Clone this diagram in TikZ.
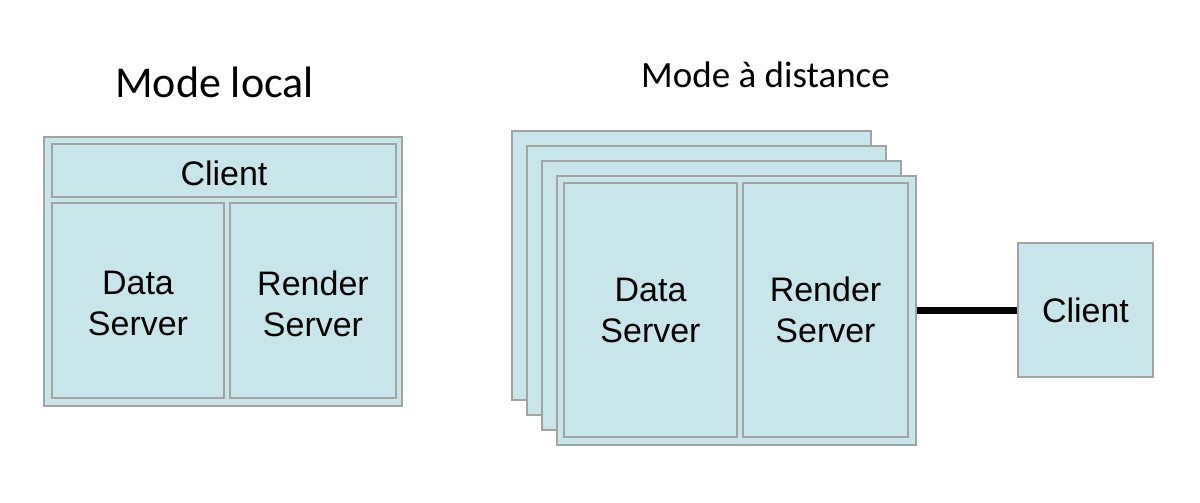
\documentclass[tikz,border=0pt]{standalone}
\usepackage{fontspec}
\setmainfont{Liberation Sans}
\newfontfamily\titlefont{Carlito}
\definecolor{boxfill}{HTML}{C8E6E9}
\definecolor{boxdraw}{HTML}{A3A3A3}
\begin{document}
\begin{tikzpicture}[x=1pt,y=-1pt,
  panel/.style={draw=boxdraw,fill=boxfill,line width=2.5pt,inner sep=0pt,align=center,
    font=\fontsize{34}{41}\selectfont},
  lowtext/.style={label={[inner sep=0pt,align=center,yshift=-3pt,font=\fontsize{34}{41}\selectfont]center:#1}},
  titletext/.style={inner sep=0pt,anchor=base west}]
\useasboundingbox (0,0) rectangle (1200,503);
% titles
\node[titletext,font=\titlefont\fontsize{44}{50}\selectfont] (t1) at (115,97) {Mode local};
\node[titletext,font=\titlefont\fontsize{37}{44}\selectfont] (t2) at (641,88) {Mode à distance};
% local mode
\node[panel,minimum width=358pt,minimum height=269pt] (lout) at (223,271.5) {};
\node[panel,minimum width=344pt,minimum height=53pt,lowtext={Client}] (lcli) at (224,170.5) {};
\node[panel,minimum width=172pt,minimum height=195pt,lowtext={Data\\Server}] (ldata) at (138,300.5) {};
\node[panel,minimum width=166pt,minimum height=195pt,lowtext={Render\\Server}] (lrend) at (313,300.5) {};
% remote mode
\node[panel,minimum width=359pt,minimum height=269pt] (b1) at (691.5,265.5) {};
\node[panel,minimum width=359pt,minimum height=269pt] (b2) at (706.5,280.5) {};
\node[panel,minimum width=359pt,minimum height=269pt] (b3) at (721.5,295.5) {};
\node[panel,minimum width=359pt,minimum height=269pt] (b4) at (736.5,310.5) {};
\node[panel,minimum width=173pt,minimum height=254pt] (rdata) at (650.5,310) {Data\\Server};
\node[panel,minimum width=165pt,minimum height=254pt] (rrend) at (825.5,310) {Render\\Server};
\node[panel,minimum width=135pt,minimum height=134pt] (rcli) at (1085.5,310) {Client};
\draw[line width=7pt] (b4.east |- rcli.west) -- (rcli.west);
\end{tikzpicture}
\end{document}
